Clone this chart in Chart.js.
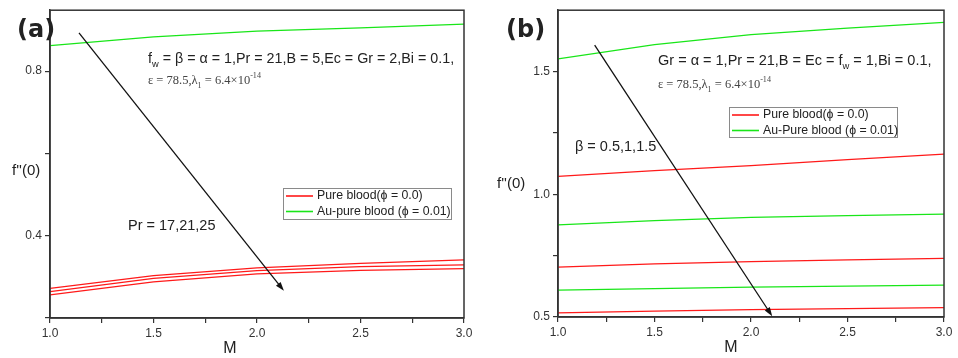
<!DOCTYPE html>
<html>
<head>
<meta charset="utf-8">
<script src="https://cdn.jsdelivr.net/npm/chart.js@4.4.1/dist/chart.umd.min.js"></script>
<style>
  html, body { margin: 0; padding: 0; background: #fff; }
  #marco { position: relative; width: 958px; height: 358px; }
  .panel { position: absolute; top: 0; width: 479px; height: 358px; }
</style>
</head>
<body>
<div id="marco">
  <div class="panel" style="left:0"><canvas id="chartA"></canvas></div>
  <div class="panel" style="left:479px"><canvas id="chartB"></canvas></div>
</div>
<script>
// eje M, comun a los dos paneles
const valoresM = [1.0, 1.5, 2.0, 2.5, 3.0];
const ticksM = [1.0, 1.25, 1.5, 1.75, 2.0, 2.25, 2.5, 2.75, 3.0];
const etiquetasM = [1.0, 1.5, 2.0, 2.5, 3.0];

// panel (a): Pr = 17, 21, 25
const puraPr17 = [0.272, 0.303, 0.322, 0.333, 0.341];
const puraPr21 = [0.264, 0.296, 0.315, 0.325, 0.329];
const puraPr25 = [0.256, 0.288, 0.307, 0.316, 0.320];
const auPuraA = [0.862, 0.883, 0.897, 0.905, 0.914];
const ticksYA = [0.2, 0.4, 0.6, 0.8];
const etiquetasYA = [0.4, 0.8];
const flechaAx = [1.14, 2.13];
const flechaAy = [0.893, 0.266];

// panel (b): beta = 0.5, 1, 1.5
const puraB1 = [1.073, 1.096, 1.117, 1.141, 1.164];
const puraB2 = [0.703, 0.716, 0.726, 0.733, 0.739];
const puraB3 = [0.517, 0.524, 0.530, 0.534, 0.538];
const auPuraB1 = [1.552, 1.610, 1.650, 1.677, 1.700];
const auPuraB2 = [0.875, 0.893, 0.906, 0.913, 0.919];
const auPuraB3 = [0.609, 0.616, 0.622, 0.626, 0.630];
const ticksYB = [0.5, 0.75, 1.0, 1.25, 1.5];
const etiquetasYB = [0.5, 1.0, 1.5];
const flechaBx = [1.19, 2.11];
const flechaBy = [1.608, 0.503];

const ROJO = '#ff1a1a';
const VERDE = '#19e619';
const SANS = '"Liberation Sans", Arial, sans-serif';
const SERIF = '"Liberation Serif", "Times New Roman", serif';

function serie(valores, color) {
    return {
        data: valores.map((v, i) => ({ x: valoresM[i], y: v })),
        borderColor: color,
        borderWidth: 1.25,
        pointRadius: 0,
        tension: 0,
        fill: false
    };
}

// texto con subindices / superindices
function textoRico(ctx, x, y, partes, tam, familia, color) {
    let cx = x;
    ctx.fillStyle = color;
    ctx.textAlign = 'left';
    ctx.textBaseline = 'alphabetic';
    partes.forEach(([t, modo]) => {
        const f = modo ? tam * 0.65 : tam;
        ctx.font = f + 'px ' + familia;
        const dy = modo === 'sub' ? tam * 0.3 : (modo === 'sup' ? -tam * 0.45 : 0);
        ctx.fillText(t, cx, y + dy);
        cx += ctx.measureText(t).width;
    });
}

function texto(ctx, t, x, y, font, align) {
    ctx.font = font;
    ctx.fillStyle = '#222';
    ctx.textAlign = align || 'left';
    ctx.textBaseline = 'middle';
    ctx.fillText(t, x, y);
}

function escalas(ticksY, etiquetasY, minY, maxY, anchoY, altoX) {
    const fuenteTick = { family: SANS, size: 12 };
    return {
        x: {
            type: 'linear', min: 1, max: 3,
            afterBuildTicks: s => { s.ticks = ticksM.map(v => ({ value: v })); },
            afterFit: s => { s.height = altoX; },
            ticks: {
                autoSkip: false, maxRotation: 0, padding: 3, color: '#333', font: fuenteTick,
                callback: v => etiquetasM.some(e => Math.abs(e - v) < 1e-6) ? v.toFixed(1) : ''
            },
            grid: { drawOnChartArea: false, tickLength: 5, color: '#333', lineWidth: 1.2 },
            border: { color: '#333', width: 1.5 }
        },
        y: {
            type: 'linear', min: minY, max: maxY,
            afterBuildTicks: s => { s.ticks = ticksY.map(v => ({ value: v })); },
            afterFit: s => { s.width = anchoY; },
            ticks: {
                autoSkip: false, padding: 3, color: '#333', font: fuenteTick,
                callback: v => etiquetasY.some(e => Math.abs(e - v) < 1e-6) ? v.toFixed(1) : ''
            },
            grid: { drawOnChartArea: false, tickLength: 5, color: '#333', lineWidth: 1.2 },
            border: { color: '#333', width: 1.5 }
        }
    };
}

function dibujarFlecha(chart, xs, ys) {
    const ctx = chart.ctx;
    const sx = chart.scales.x, sy = chart.scales.y;
    const x0 = sx.getPixelForValue(xs[0]), y0 = sy.getPixelForValue(ys[0]);
    const x1 = sx.getPixelForValue(xs[1]), y1 = sy.getPixelForValue(ys[1]);
    const ang = Math.atan2(y1 - y0, x1 - x0);
    ctx.save();
    ctx.strokeStyle = '#111';
    ctx.fillStyle = '#111';
    ctx.lineWidth = 1.3;
    ctx.beginPath();
    ctx.moveTo(x0, y0);
    ctx.lineTo(x1 - 6 * Math.cos(ang), y1 - 6 * Math.sin(ang));
    ctx.stroke();
    ctx.beginPath();
    ctx.moveTo(x1, y1);
    ctx.lineTo(x1 - 9 * Math.cos(ang) + 3 * Math.sin(ang), y1 - 9 * Math.sin(ang) - 3 * Math.cos(ang));
    ctx.lineTo(x1 - 9 * Math.cos(ang) - 3 * Math.sin(ang), y1 - 9 * Math.sin(ang) + 3 * Math.cos(ang));
    ctx.closePath();
    ctx.fill();
    ctx.restore();
}

function dibujarLeyenda(ctx, x, y, w, h, textos) {
    ctx.save();
    ctx.fillStyle = '#fff';
    ctx.fillRect(x, y, w, h);
    ctx.strokeStyle = '#8a8a8a';
    ctx.lineWidth = 1;
    ctx.strokeRect(x + 0.5, y + 0.5, w, h);
    [ROJO, VERDE].forEach((c, i) => {
        const yy = y + 8 + i * 15.5;
        ctx.strokeStyle = c;
        ctx.lineWidth = 1.6;
        ctx.beginPath();
        ctx.moveTo(x + 3, yy);
        ctx.lineTo(x + 30, yy);
        ctx.stroke();
        texto(ctx, textos[i], x + 34, yy, '12.3px ' + SANS);
    });
    ctx.restore();
}

function pluginPanel(extra) {
    return {
        id: 'extras',
        afterDraw(chart) {
            const ctx = chart.ctx;
            const a = chart.chartArea;
            ctx.save();
            ctx.strokeStyle = '#333';
            ctx.lineWidth = 1.5;
            ctx.strokeRect(a.left, a.top, a.right - a.left, a.bottom - a.top);
            ctx.restore();
            extra(chart, ctx, a);
        }
    };
}

function crearPanel(id, datasets, ticksY, etiquetasY, minY, maxY, layout, extra) {
    new Chart(document.getElementById(id), {
        type: 'line',
        data: { datasets: datasets },
        options: {
            responsive: true,
            maintainAspectRatio: false,
            animation: false,
            events: [],
            layout: { padding: layout.padding },
            plugins: { legend: { display: false }, tooltip: { enabled: false } },
            scales: escalas(ticksY, etiquetasY, minY, maxY, layout.anchoY, layout.altoX)
        },
        plugins: [pluginPanel(extra)]
    });
}

// panel (a)
crearPanel('chartA',
    [serie(puraPr17, ROJO), serie(puraPr21, ROJO), serie(puraPr25, ROJO), serie(auPuraA, VERDE)],
    ticksYA, etiquetasYA, 0.2, 0.948,
    { padding: { left: 0, right: 15, top: 7, bottom: 0 }, anchoY: 50, altoX: 40 },
    (chart, ctx) => {
        dibujarFlecha(chart, flechaAx, flechaAy);
        texto(ctx, '(a)', 17, 31, 'bold 24px "DejaVu Sans", sans-serif');
        textoRico(ctx, 148, 63, [['f'], ['w', 'sub'], [' = \u03b2 = \u03b1 = 1,Pr = 21,B = 5,Ec = Gr = 2,Bi = 0.1,']], 14.3, SANS, '#222');
        textoRico(ctx, 148, 84, [['\u03b5 = 78.5,\u03bb'], ['1', 'sub'], [' = 6.4\u00d710'], ['-14', 'sup']], 12.5, SERIF, '#444');
        texto(ctx, 'Pr = 17,21,25', 128, 226, '14.5px ' + SANS);
        texto(ctx, "f''(0)", 12, 171, '15px ' + SANS);
        texto(ctx, 'M', 230, 349, '16px ' + SANS, 'center');
        dibujarLeyenda(ctx, 283, 188, 168, 31, ['Pure blood(\u03d5 = 0.0)', 'Au-pure blood (\u03d5 = 0.01)']);
    });

// panel (b)
crearPanel('chartB',
    [serie(puraB1, ROJO), serie(puraB2, ROJO), serie(puraB3, ROJO),
     serie(auPuraB1, VERDE), serie(auPuraB2, VERDE), serie(auPuraB3, VERDE)],
    ticksYB, etiquetasYB, 0.5, 1.75,
    { padding: { left: 0, right: 14, top: 7, bottom: 0 }, anchoY: 79, altoX: 41 },
    (chart, ctx) => {
        dibujarFlecha(chart, flechaBx, flechaBy);
        texto(ctx, '(b)', 27, 31, 'bold 24px "DejaVu Sans", sans-serif');
        textoRico(ctx, 179, 65, [['Gr = \u03b1 = 1,Pr = 21,B = Ec = f'], ['w', 'sub'], [' = 1,Bi = 0.1,']], 14.5, SANS, '#222');
        textoRico(ctx, 179, 88, [['\u03b5 = 78.5,\u03bb'], ['1', 'sub'], [' = 6.4\u00d710'], ['-14', 'sup']], 12.5, SERIF, '#444');
        texto(ctx, '\u03b2 = 0.5,1,1.5', 96, 147, '14.5px ' + SANS);
        texto(ctx, "f''(0)", 18, 184, '15px ' + SANS);
        texto(ctx, 'M', 252, 348, '16px ' + SANS, 'center');
        dibujarLeyenda(ctx, 250, 107, 168, 30, ['Pure blood(\u03d5 = 0.0)', 'Au-Pure blood (\u03d5 = 0.01)']);
    });
</script>
</body>
</html>
